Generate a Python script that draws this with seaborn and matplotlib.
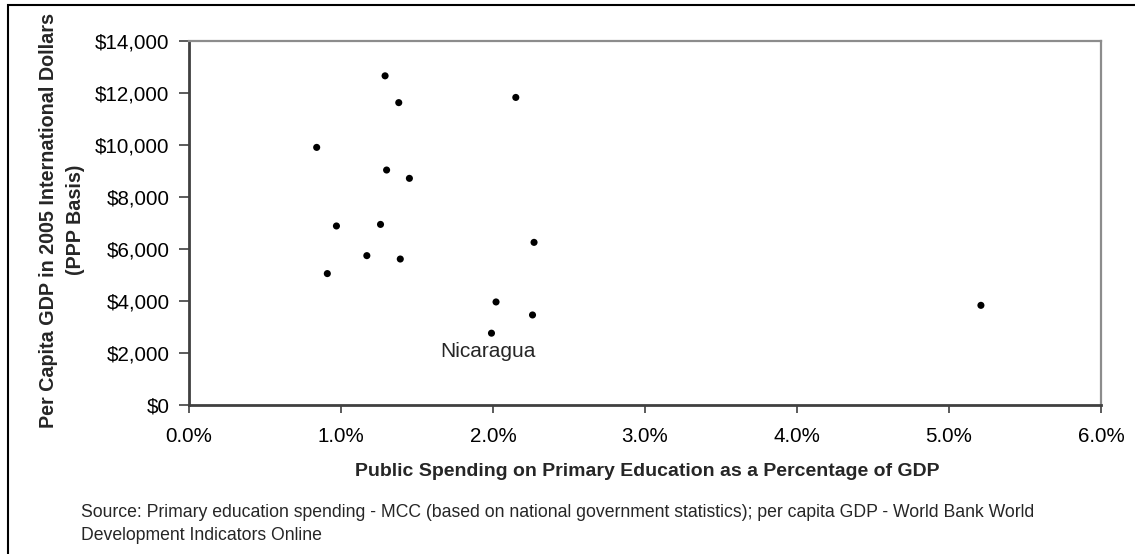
"""
初等教育公共支出 vs 人均GDP 散点图
"""
import pandas as pd
import numpy as np
import matplotlib
matplotlib.use('Agg')
import matplotlib.pyplot as plt
import seaborn as sns
from matplotlib.patches import Rectangle
from matplotlib.ticker import FuncFormatter

# 数据
edu_spending_pct = [0.84, 1.29, 1.30, 0.97, 1.26, 1.17, 0.91, 1.38,
                    2.15, 1.45, 1.39, 2.27, 2.02, 2.26, 1.99, 5.21]
gdp_per_capita = [9900, 12650, 9030, 6880, 6940, 5740, 5050, 11620,
                  11820, 8710, 5610, 6250, 3960, 3460, 2760, 3830]
country = [''] * 16
country[14] = 'Nicaragua'

x_ticks = [0, 1, 2, 3, 4, 5, 6]
y_ticks = [0, 2000, 4000, 6000, 8000, 10000, 12000, 14000]

x_title = 'Public Spending on Primary Education as a Percentage of GDP'
y_title = 'Per Capita GDP in 2005 International Dollars\n(PPP Basis)'
source_note = ('Source: Primary education spending - MCC (based on national government '
               'statistics); per capita GDP - World Bank World\nDevelopment Indicators Online')

sns.set_theme(style='white')
plt.rcParams['font.family'] = ['Liberation Sans', 'DejaVu Sans']

df = pd.DataFrame({'edu': edu_spending_pct, 'gdp': gdp_per_capita, 'country': country})

W, H = 1135, 554
fig = plt.figure(figsize=(W / 100, H / 100), dpi=100)
ax = fig.add_axes([189 / W, 1 - 405 / H, 912 / W, 364.3 / H])

sns.scatterplot(data=df, x='edu', y='gdp', ax=ax, color='black', s=26,
                edgecolor='none', legend=False)

ax.set_xlim(0, 6)
ax.set_ylim(0, 14000)
ax.set_xticks(x_ticks)
ax.set_yticks(y_ticks)
ax.xaxis.set_major_formatter(FuncFormatter(lambda v, p: f'{v:.1f}%'))
ax.yaxis.set_major_formatter(FuncFormatter(lambda v, p: f'${v:,.0f}'))

ax.tick_params(axis='y', direction='out', length=7, width=1.2, color='#404040',
               pad=7, labelsize=14.8, labelcolor='black', left=True)
ax.tick_params(axis='x', direction='out', length=6, width=1.2, color='#404040',
               pad=10, labelsize=14.8, labelcolor='black', bottom=True)

for side in ['left', 'bottom']:
    ax.spines[side].set_color('#404040')
    ax.spines[side].set_linewidth(2)
for side in ['top', 'right']:
    ax.spines[side].set_color('#8c8c8c')
    ax.spines[side].set_linewidth(1.6)

ax.set_xlabel('')
ax.set_ylabel('')

# 标注
for _, row in df[df['country'] != ''].iterrows():
    ax.annotate(row['country'], (row['edu'], row['gdp']), textcoords='offset points',
                xytext=(-2.5, -13.5), ha='center', va='center', fontsize=15)

fig.text(647 / W, 1 - 472 / H, x_title, ha='center', va='center',
         fontsize=14, fontweight='bold')
fig.text(62 / W, 1 - 220 / H, y_title, ha='center', va='center', rotation=90,
         fontsize=14.2, fontweight='bold', multialignment='center', linespacing=1.55)
fig.text(81 / W, 1 - 524 / H, source_note, ha='left', va='center',
         fontsize=12.7, linespacing=1.45)

# 外框
fig.add_artist(Rectangle((8 / W, -0.02), 1.1, 1 - 5 / H + 0.02, transform=fig.transFigure,
                         fill=False, edgecolor='black', linewidth=1.5))

plt.savefig('out.png', dpi=100)
plt.close()
